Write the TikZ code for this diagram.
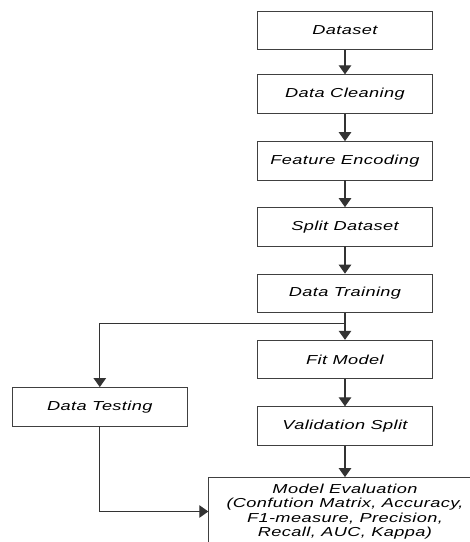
\documentclass[tikz,border=0pt]{standalone}
\usepackage{fontspec}
\setmainfont{Liberation Sans}
\newfontfamily\boxfont[FakeStretch=1.4, LetterSpace=3]{Liberation Sans}
\usetikzlibrary{arrows.meta}

\begin{document}
\begin{tikzpicture}[x=1pt, y=1pt,
    every node/.style={font=\boxfont\itshape\fontsize{13}{14.3}\selectfont},
    stepbox/.style={rectangle, draw=black!75, line width=0.8pt, fill=white, minimum width=175pt, minimum height=38.5pt, align=center, inner sep=1pt},
    arr/.style={-{Triangle[length=9pt, width=12.5pt]}, draw=black!80, line width=1.1pt}
]
\useasboundingbox (0,0) rectangle (470,-542);
\clip (0,0) rectangle (470,-542);

% Main pipeline
\node[stepbox] (data) at (345, -30.2) {Dataset};
\node[stepbox] (clean) at (345, -94) {Data Cleaning};
\node[stepbox] (enc) at (345, -160.8) {Feature Encoding};
\node[stepbox] (split) at (345, -226.8) {Split Dataset};
\node[stepbox] (train) at (345, -293.3) {Data Training};
\node[stepbox] (fit) at (345, -359.5) {Fit Model};
\node[stepbox] (valid) at (345, -426) {Validation Split};

% Testing branch
\node[stepbox] (test) at (99.8, -406.7) {Data Testing};
\node[stepbox, minimum width=272.6pt, minimum height=68pt, inner sep=0pt] (eval) at (345, -511.5) {Model Evaluation\\(Confution Matrix, Accuracy,\\F1-measure, Precision,\\Recall, AUC, Kappa)};

\coordinate (fork) at (345, -323.3);

% Arrows
\draw[arr] (data) -- (clean);
\draw[arr] (clean) -- (enc);
\draw[arr] (enc) -- (split);
\draw[arr] (split) -- (train);
\draw[arr] (train) -- (fit);
\draw[arr] (fit) -- (valid);
\draw[arr] (valid) -- (eval);
\draw[arr] (fork) -| (test.north);
\draw[arr] (test.south) |- (eval.west);

\end{tikzpicture}
\end{document}
